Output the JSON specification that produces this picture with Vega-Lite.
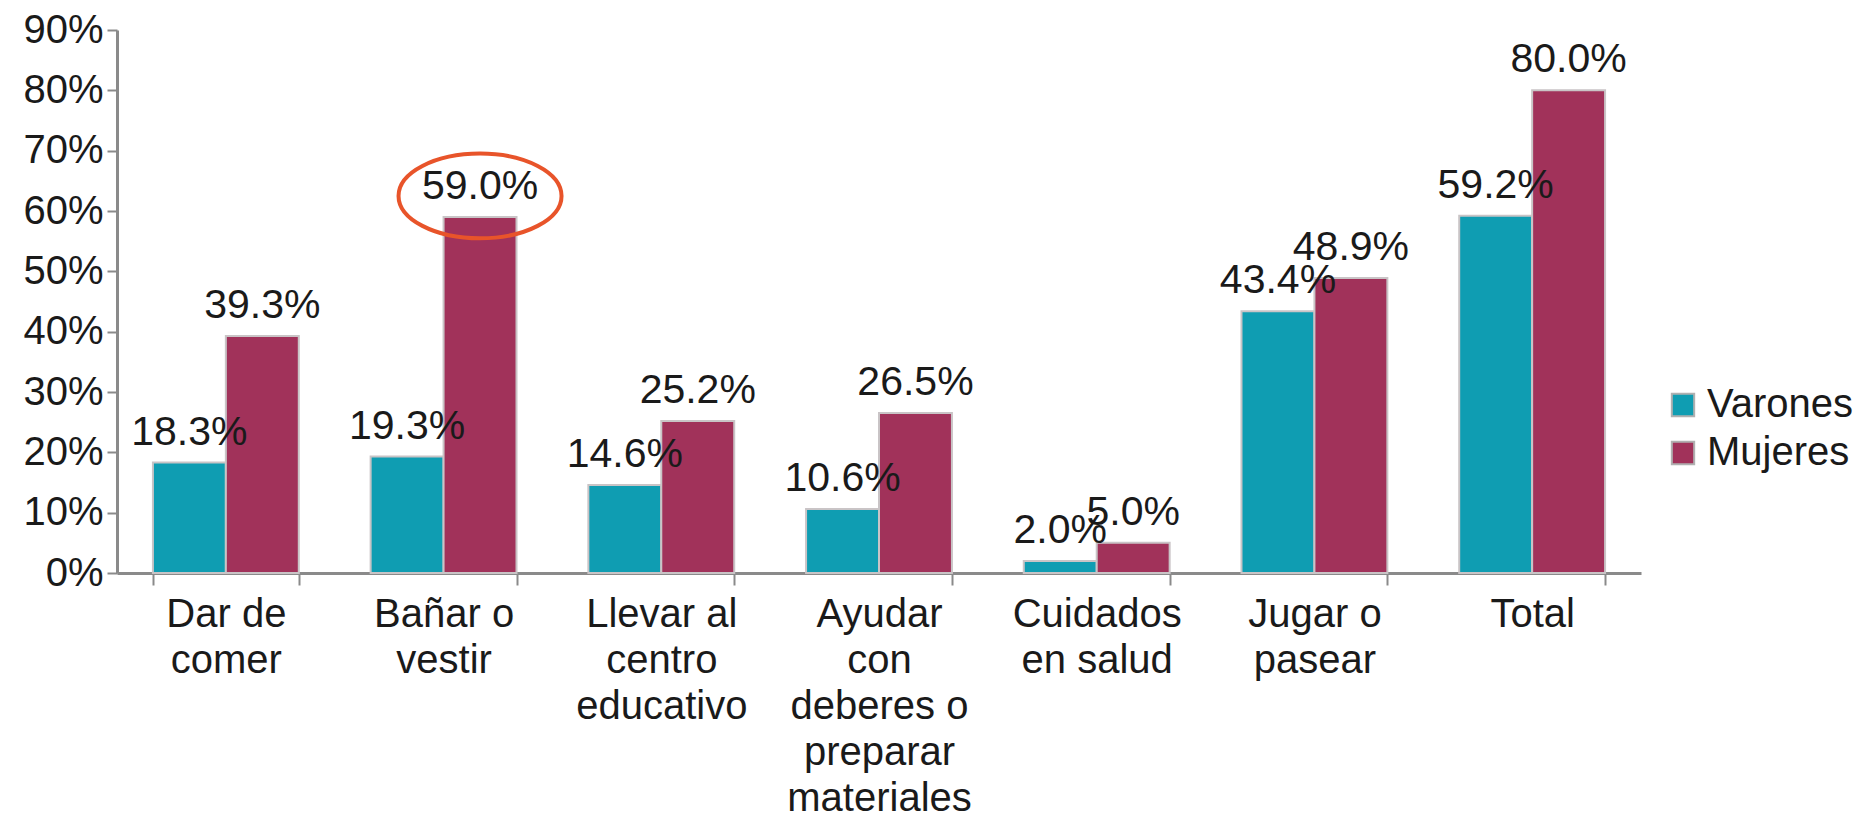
{
  "$schema": "https://vega.github.io/schema/vega-lite/v6.json",
  "width": 1524,
  "height": 543,
  "autosize": {"type": "none"},
  "padding": {"left": 117, "top": 30, "right": 227, "bottom": 244},
  "background": "white",
  "config": {
    "view": {"stroke": null},
    "font": "Liberation Sans"
  },
  "datasets": {
    "main": [
      {"cat": "Dar de|comer", "serie": "Varones", "valor": 0.183},
      {"cat": "Dar de|comer", "serie": "Mujeres", "valor": 0.393},
      {"cat": "Bañar o|vestir", "serie": "Varones", "valor": 0.193},
      {"cat": "Bañar o|vestir", "serie": "Mujeres", "valor": 0.590},
      {"cat": "Llevar al|centro|educativo", "serie": "Varones", "valor": 0.146},
      {"cat": "Llevar al|centro|educativo", "serie": "Mujeres", "valor": 0.252},
      {"cat": "Ayudar|con|deberes o|preparar|materiales", "serie": "Varones", "valor": 0.106},
      {"cat": "Ayudar|con|deberes o|preparar|materiales", "serie": "Mujeres", "valor": 0.265},
      {"cat": "Cuidados|en salud", "serie": "Varones", "valor": 0.020},
      {"cat": "Cuidados|en salud", "serie": "Mujeres", "valor": 0.050},
      {"cat": "Jugar o|pasear", "serie": "Varones", "valor": 0.434},
      {"cat": "Jugar o|pasear", "serie": "Mujeres", "valor": 0.489},
      {"cat": "Total", "serie": "Varones", "valor": 0.592},
      {"cat": "Total", "serie": "Mujeres", "valor": 0.800}
    ],
    "marca": [
      {"cat": "Bañar o|vestir", "serie": "Mujeres", "valor": 0.625}
    ]
  },
  "encoding": {
    "x": {
      "field": "cat",
      "type": "nominal",
      "sort": ["Dar de|comer", "Bañar o|vestir", "Llevar al|centro|educativo", "Ayudar|con|deberes o|preparar|materiales", "Cuidados|en salud", "Jugar o|pasear", "Total"],
      "scale": {"paddingInner": 0.33, "paddingOuter": 0.165},
      "axis": {
        "title": null,
        "labelAngle": 0,
        "labelExpr": "split(datum.label, '|')",
        "labelFontSize": 40,
        "labelLineHeight": 46,
        "labelColor": "#1a1a1a",
        "labelPadding": 9,
        "labelLimit": 400,
        "tickBand": "extent",
        "tickSize": 12,
        "tickWidth": 2,
        "tickColor": "#8a8a8a",
        "domainColor": "#8a8a8a",
        "domainWidth": 3
      }
    },
    "xOffset": {"field": "serie", "type": "nominal", "sort": ["Varones", "Mujeres"]},
    "y": {
      "field": "valor",
      "type": "quantitative",
      "scale": {"domain": [0, 0.9], "nice": false},
      "axis": {
        "title": null,
        "format": ".0%",
        "values": [0, 0.1, 0.2, 0.3, 0.4, 0.5, 0.6, 0.7, 0.8, 0.9],
        "grid": false,
        "labelFontSize": 40,
        "labelColor": "#1a1a1a",
        "labelPadding": 4,
        "tickSize": 10,
        "tickWidth": 2,
        "tickColor": "#8a8a8a",
        "domainColor": "#8a8a8a",
        "domainWidth": 3
      }
    }
  },
  "layer": [
    {
      "data": {"name": "main"},
      "mark": {"type": "bar", "stroke": "#c9c4c6", "strokeWidth": 2},
      "encoding": {
        "color": {
          "field": "serie",
          "type": "nominal",
          "sort": ["Varones", "Mujeres"],
          "scale": {"domain": ["Varones", "Mujeres"], "range": ["#0f9db2", "#a1325a"]},
          "legend": {
            "title": null,
            "orient": "none",
            "legendX": 1546,
            "legendY": 355,
            "symbolType": "square",
            "symbolSize": 500,
            "symbolStrokeColor": "#b0b0b0",
            "symbolStrokeWidth": 2,
            "labelFontSize": 40,
            "labelColor": "#1a1a1a",
            "labelOffset": 4,
            "rowPadding": 8,
            "padding": 0
          }
        }
      }
    },
    {
      "data": {"name": "main"},
      "mark": {"type": "text", "baseline": "bottom", "dy": -9, "fontSize": 41, "color": "#1a1a1a"},
      "encoding": {
        "text": {"field": "valor", "type": "quantitative", "format": ".1%"}
      }
    },
    {
      "data": {"name": "marca"},
      "mark": {
        "type": "point",
        "shape": "M -1 0 A 1 0.52 0 1 0 1 0 A 1 0.52 0 1 0 -1 0 Z",
        "size": 26569,
        "filled": false,
        "stroke": "#e8542a",
        "strokeWidth": 4,
        "opacity": 1
      }
    }
  ]
}
